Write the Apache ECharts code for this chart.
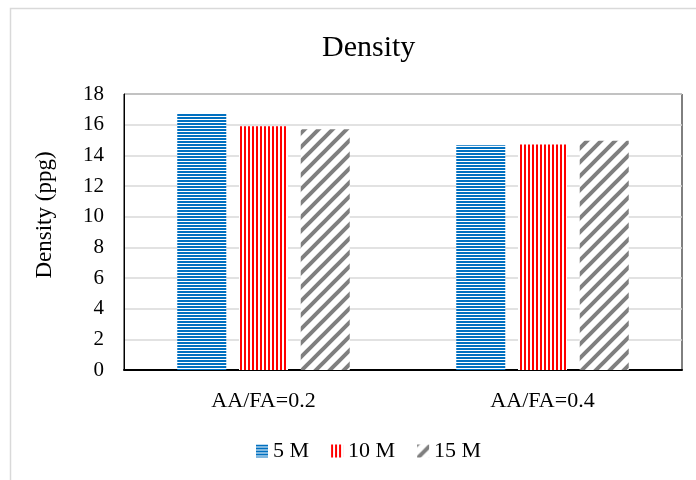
<!DOCTYPE html>
<html>
<head>
<meta charset="utf-8">
<script src="https://cdn.jsdelivr.net/npm/echarts@6/dist/echarts.min.js"></script>
<style>html,body{margin:0;padding:0;background:#fff}#c{width:696px;height:480px}</style>
</head>
<body>
<div id="c"></div>
<script>
var categories = ['AA/FA=0.2', 'AA/FA=0.4'];
var seriesNames = ['5 M', '10 M', '15 M'];
var values5M = [16.7, 14.65];
var values10M = [15.9, 14.7];
var values15M = [15.7, 14.95];
var yTicks = [0, 2, 4, 6, 8, 10, 12, 14, 16, 18];

function makeCanvas(w, h, draw) {
  var c = document.createElement('canvas');
  c.width = w; c.height = h;
  var ctx = c.getContext('2d');
  ctx.fillStyle = '#ffffff';
  ctx.fillRect(0, 0, w, h);
  draw(ctx);
  return c;
}
var bluePat = makeCanvas(4, 3, function (ctx) {
  ctx.fillStyle = '#0070C0';
  ctx.fillRect(0, 0, 4, 2);
});
var redPat = makeCanvas(4, 4, function (ctx) {
  ctx.fillStyle = '#FF0000';
  ctx.fillRect(0, 0, 2, 4);
});
var grayPat = makeCanvas(14, 14, function (ctx) {
  ctx.strokeStyle = '#7F7F7F';
  ctx.lineWidth = 4;
  ctx.beginPath();
  ctx.moveTo(-7, 7); ctx.lineTo(7, -7);
  ctx.moveTo(0, 14); ctx.lineTo(14, 0);
  ctx.moveTo(7, 21); ctx.lineTo(21, 7);
  ctx.stroke();
});

var font = 'Liberation Serif';
var chart = echarts.init(document.getElementById('c'), null, {renderer: 'canvas'});
var option = {
  backgroundColor: '#fff',
  animation: false,
  textStyle: {fontFamily: font, color: '#000'},
  graphic: [{
    type: 'rect', z: -10, silent: true,
    shape: {x: 10.5, y: 8.5, width: 700, height: 500},
    style: {fill: 'none', stroke: '#d9d9d9', lineWidth: 1.5}
  }, {
    type: 'text', silent: true,
    x: 45, y: 215, rotation: Math.PI / 2,
    style: {text: 'Density (ppg)', fontFamily: font, fontSize: 23, fill: '#000',
      align: 'center', verticalAlign: 'middle'}
  }],
  title: {
    text: 'Density', left: 317, top: 28,
    textStyle: {fontFamily: font, fontSize: 30, fontWeight: 'normal', color: '#000'}
  },
  legend: {
    data: seriesNames, top: 435, left: 251,
    itemWidth: 12, itemHeight: 13, itemGap: 22, icon: 'rect',
    textStyle: {fontFamily: font, fontSize: 22, color: '#000'}
  },
  grid: {
    left: 124, right: 14, top: 94, bottom: 110,
    show: true, borderColor: '#000', borderWidth: 1, backgroundColor: 'transparent'
  },
  xAxis: {
    type: 'category', data: categories,
    axisLine: {show: true, lineStyle: {color: '#000', width: 2}},
    axisTick: {show: false},
    axisLabel: {fontFamily: font, fontSize: 22, color: '#000', margin: 20}
  },
  yAxis: {
    type: 'value', min: 0, max: 18, interval: 2,
    axisLine: {show: true, lineStyle: {color: '#000', width: 1}},
    axisTick: {show: false},
    splitLine: {lineStyle: {color: '#d9d9d9', width: 1.5}},
    axisLabel: {fontFamily: font, fontSize: 21, color: '#000', margin: 20,
      formatter: function (v) { return yTicks.indexOf(v) >= 0 ? String(v) : ''; }}
  },
  series: [
    {name: seriesNames[0], type: 'bar', data: values5M, barWidth: 49, barGap: '26%',
      itemStyle: {color: {image: bluePat, repeat: 'repeat'}}},
    {name: seriesNames[1], type: 'bar', data: values10M, barWidth: 49, barGap: '26%',
      itemStyle: {color: {image: redPat, repeat: 'repeat'}}},
    {name: seriesNames[2], type: 'bar', data: values15M, barWidth: 49, barGap: '26%',
      itemStyle: {color: {image: grayPat, repeat: 'repeat'}}}
  ]
};
chart.setOption(option);
</script>
</body>
</html>
